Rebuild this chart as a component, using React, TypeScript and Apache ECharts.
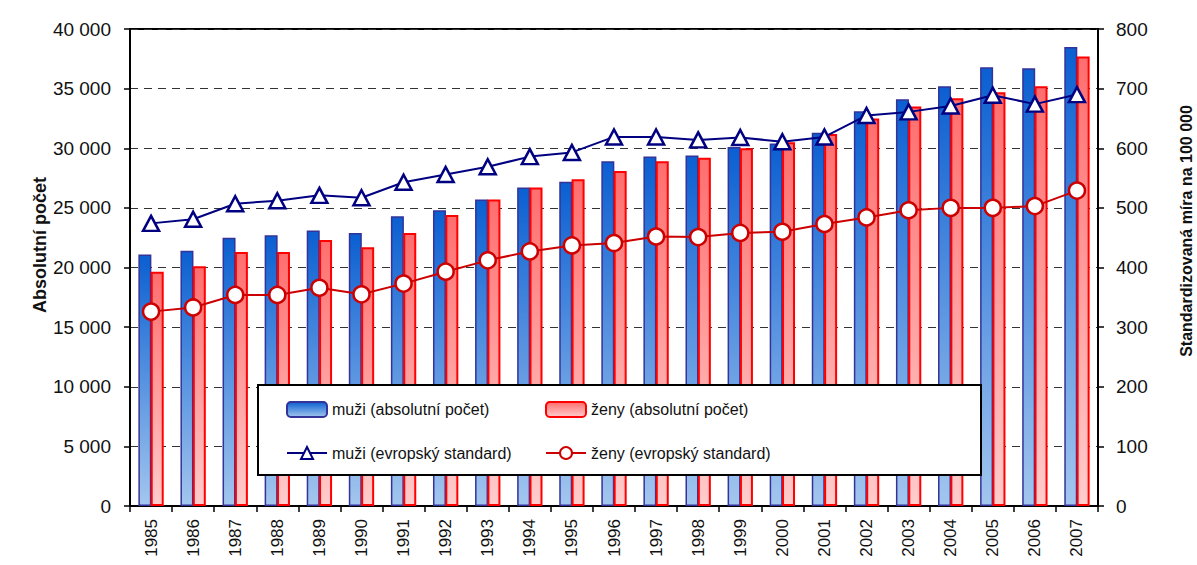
import React, { useEffect, useRef } from "react";
import * as echarts from "echarts";

const years = ["1985","1986","1987","1988","1989","1990","1991","1992","1993","1994","1995","1996","1997","1998","1999","2000","2001","2002","2003","2004","2005","2006","2007"];
const muziAbs = [21100,21400,22500,22700,23100,22900,24300,24800,25700,26700,27200,28900,29300,29400,30100,30400,31300,33100,34100,35200,36800,36700,38500];
const zenyAbs = [19650,20100,21300,21300,22300,21700,22900,24400,25700,26700,27400,28100,28900,29200,30000,30500,31200,32500,33500,34200,34700,35200,37700];
const muziStd = [474,481,507,512,521,517,543,556,569,586,593,619,619,614,618,611,619,655,661,671,689,674,690];
const zenyStd = [326,333,354,354,366,355,373,393,412,427,437,441,452,451,458,460,473,484,496,500,500,503,529];
const leftTicks = { min: 0, max: 40000, interval: 5000 };
const rightTicks = { min: 0, max: 800, interval: 100 };
const seriesNames = ["muži (absolutní počet)", "ženy (absolutní počet)", "muži (evropský standard)", "ženy (evropský standard)"];
const leftTitle = "Absolutní počet";
const rightTitle = "Standardizovaná míra na 100 000";

const FONT = "'Liberation Sans', Arial, sans-serif";

const fmt = (v: number) => String(Math.round(v)).replace(/\B(?=(\d{3})+(?!\d))/g, " ");

export default function App() {
  const ref = useRef<HTMLDivElement>(null);
  useEffect(() => {
    if (!ref.current) return;
    const chart = echarts.init(ref.current, null, { renderer: "svg" });
    const blueGrad = new echarts.graphic.LinearGradient(0, 0, 0, 1, [
      { offset: 0, color: "#0b5fd1" },
      { offset: 1, color: "#a3c6ee" },
    ]);
    const redGrad = new echarts.graphic.LinearGradient(0, 0, 0, 1, [
      { offset: 0, color: "#ff6e6e" },
      { offset: 1, color: "#ffcccc" },
    ]);
    const legendText = { fontFamily: FONT, fontSize: 16, color: "#111" };
    const legendPos = [
      [286, 401],
      [545, 401],
      [286, 445],
      [545, 445],
    ];
    const axisTick = { show: true, length: 6, lineStyle: { color: "#000", width: 1.5 } };
    chart.setOption({
      animation: false,
      textStyle: { fontFamily: FONT },
      grid: { left: 130, right: 99, top: 29, bottom: 59, show: true, borderColor: "#000", borderWidth: 2, backgroundColor: "transparent" },
      xAxis: {
        type: "category",
        data: years,
        axisLine: { lineStyle: { color: "#000", width: 2 } },
        axisTick,
        axisLabel: { rotate: 90, fontFamily: FONT, fontSize: 17, color: "#111", margin: 13 },
      },
      yAxis: [
        {
          type: "value",
          ...leftTicks,
          axisLine: { show: true, lineStyle: { color: "#000", width: 2 } },
          axisTick,
          axisLabel: { fontFamily: FONT, fontSize: 19, color: "#111", margin: 19, formatter: fmt },
          splitLine: { show: true, lineStyle: { color: "#333", type: [8, 6], width: 1 } },
        },
        {
          type: "value",
          ...rightTicks,
          position: "right",
          axisLine: { show: true, lineStyle: { color: "#000", width: 2 } },
          axisTick,
          axisLabel: { fontFamily: FONT, fontSize: 19, color: "#111", margin: 18 },
          splitLine: { show: false },
        },
      ],
      graphic: [
        {
          type: "rect",
          z: 10,
          shape: { x: 258, y: 385, width: 723, height: 90 },
          style: { fill: "#fff", stroke: "#000", lineWidth: 2 },
        },
        {
          type: "text",
          x: 40,
          y: 245,
          rotation: Math.PI / 2,
          style: { text: leftTitle, font: `bold 18px ${FONT}`, fill: "#111", align: "center", verticalAlign: "middle" },
        },
        {
          type: "text",
          x: 1186,
          y: 231,
          rotation: Math.PI / 2,
          style: { text: rightTitle, font: `bold 16px ${FONT}`, fill: "#111", align: "center", verticalAlign: "middle" },
        },
      ],
      legend: seriesNames.map((n, i) => ({
        z: 20,
        left: legendPos[i][0],
        top: legendPos[i][1],
        itemWidth: 40,
        itemHeight: 15,
        itemGap: 4,
        padding: 0,
        data: [n],
        textStyle: legendText,
      })),
      series: [
        {
          name: seriesNames[0],
          type: "bar",
          data: muziAbs,
          barWidth: 13,
          barGap: "-5%",
          itemStyle: { color: blueGrad, borderColor: "#333399", borderWidth: 1.5 },
        },
        {
          name: seriesNames[1],
          type: "bar",
          data: zenyAbs,
          barWidth: 13,
          barGap: "-5%",
          itemStyle: { color: redGrad, borderColor: "#ff0000", borderWidth: 2 },
        },
        {
          name: seriesNames[2],
          type: "line",
          yAxisIndex: 1,
          data: muziStd,
          z: 5,
          symbol: "triangle",
          symbolSize: [16, 15],
          lineStyle: { color: "#000080", width: 2 },
          itemStyle: { color: "#fff", borderColor: "#000080", borderWidth: 2.5 },
        },
        {
          name: seriesNames[3],
          type: "line",
          yAxisIndex: 1,
          data: zenyStd,
          z: 5,
          symbol: "circle",
          symbolSize: 16,
          lineStyle: { color: "#cc0000", width: 2 },
          itemStyle: { color: "#fff", borderColor: "#cc0000", borderWidth: 2.5 },
        },
      ],
    });
    return () => chart.dispose();
  }, []);
  return <div ref={ref} style={{ position: "fixed", left: 0, top: 0, width: 1197, height: 565, background: "#fff" }} />;
}
